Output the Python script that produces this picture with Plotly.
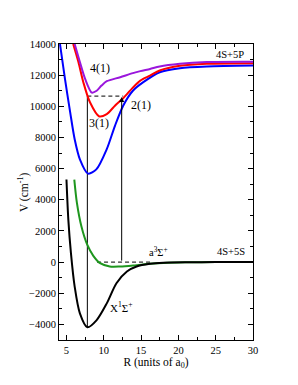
import plotly.graph_objects as go

# Ground singlet X1Sigma+
R_X = [5.0, 5.25, 5.6, 6.1, 6.8, 7.8, 9.05, 10.4, 11.7, 13.1, 14.4, 16.2, 18.0, 21.0, 25.0, 30.0]
V_X = [5300, 2730, 580, -1570, -3290, -4180, -3720, -2650, -1355, -600, -280, -110, -40, -10, 0, 0]

# Triplet a3Sigma+
R_a = [6.05, 6.4, 7.0, 7.8, 8.6, 9.5, 10.8, 12.2, 14.0, 16.2, 18.0, 21.0, 25.0, 30.0]
V_a = [5300, 3800, 2300, 1100, 400, -70, -280, -280, -215, -110, -50, -15, 0, 0]

# 2(1) state (blue)
R_2 = [4.13, 4.8, 5.5, 6.1, 6.8, 7.9, 9.0, 10.4, 11.5, 12.6, 13.9, 15.3, 17.5, 20.2, 23.8, 30.0]
V_2 = [14000, 11760, 9610, 7890, 6600, 5680, 5950, 7250, 8750, 10040, 11000, 11550, 12190, 12450, 12560, 12620]

# 3(1) state (red)
R_3 = [5.9, 6.6, 7.26, 8.15, 9.4, 10.4, 11.5, 12.6, 13.9, 14.9, 16.2, 17.5, 20.2, 23.8, 30.0]
V_3 = [14000, 12840, 11550, 10260, 9350, 9500, 10040, 10520, 11200, 11650, 11970, 12300, 12600, 12730, 12770]

# 4(1) state (purple)
R_4 = [6.1, 6.8, 7.5, 8.4, 9.05, 9.7, 10.4, 12.2, 13.9, 14.9, 16.2, 17.5, 20.2, 23.8, 30.0]
V_4 = [14000, 12840, 11760, 10880, 11000, 11330, 11610, 11870, 12130, 12260, 12400, 12560, 12730, 12840, 12860]

# transition / guide lines
pump_R = [7.8, 7.8]
pump_V = [-4180, 10650]
dash_top_R = [7.8, 12.6]
dash_top_V = [10650, 10650]
dash_zero_R = [9.1, 16.5]
dash_zero_V = [0, 0]
arrow_R = 12.4
arrow_V = [0, 10600]

# labels
label_text = ["4(1)", "3(1)", "2(1)", "4S+5P", "4S+5S", "a<sup>3</sup>Σ<sup>+</sup>", "X<sup>1</sup>Σ<sup>+</sup>"]
label_R = [9.5, 9.4, 15.0, 26.9, 27.0, 17.3, 12.4]
label_V = [12450, 8950, 10100, 13300, 700, 650, -2850]
label_size = [12, 12, 12, 10.5, 10.5, 10.5, 11]

y_title = "V (cm<sup>-1</sup>)"
x_title = "R (units of a<sub>0</sub>)"

FONT = "Liberation Serif, Times New Roman, serif"

fig = go.Figure()

def curve(R, V, color):
    fig.add_trace(go.Scatter(x=R, y=V, mode="lines",
                             line=dict(color=color, width=2, shape="spline", smoothing=0.8),
                             hoverinfo="skip", showlegend=False, cliponaxis=True))

fig.add_trace(go.Scatter(x=pump_R, y=pump_V, mode="lines",
                         line=dict(color="black", width=1), showlegend=False))
fig.add_trace(go.Scatter(x=dash_top_R, y=dash_top_V, mode="lines",
                         line=dict(color="#333333", width=1.3, dash="4px,3px"), showlegend=False))
fig.add_trace(go.Scatter(x=dash_zero_R, y=dash_zero_V, mode="lines",
                         line=dict(color="#333333", width=1.3, dash="4px,3px"), showlegend=False))

curve(R_a, V_a, "#1e961e")
curve(R_X, V_X, "black")
curve(R_2, V_2, "#0000ff")
curve(R_3, V_3, "#ff0000")
curve(R_4, V_4, "#9a16dc")

fig.add_annotation(x=arrow_R, y=arrow_V[1], ax=arrow_R, ay=arrow_V[0],
                   xref="x", yref="y", axref="x", ayref="y",
                   showarrow=True, arrowhead=2, arrowsize=1, arrowwidth=1,
                   arrowcolor="black", text="")

for t, r, v, s in zip(label_text, label_R, label_V, label_size):
    fig.add_annotation(x=r, y=v, text=t, showarrow=False,
                       font=dict(family=FONT, size=s, color="black"))

# y-axis title placed as rotated annotation
fig.add_annotation(x=-0.185, y=0.5, xref="paper", yref="paper", text=y_title,
                   textangle=-90, showarrow=False, xanchor="center", yanchor="middle",
                   font=dict(family=FONT, size=11.5, color="black"))

axis_common = dict(
    showgrid=False, zeroline=False, showline=True, linecolor="black", linewidth=1,
    mirror="ticks", ticks="inside", ticklen=5, tickcolor="black", tickwidth=1,
    tickfont=dict(family=FONT, size=10.5, color="black"), tickformat="d",
    automargin=False,
)

fig.update_xaxes(range=[4, 30], tick0=0, dtick=5,
                 minor=dict(ticks="inside", ticklen=3, dtick=2.5, tick0=0, tickcolor="black"),
                 title=dict(text=x_title, font=dict(family=FONT, size=11.5, color="black"), standoff=2),
                 **axis_common)
fig.update_yaxes(range=[-5000, 14000], tick0=0, dtick=2000,
                 minor=dict(ticks="inside", ticklen=3, dtick=1000, tick0=0, tickcolor="black"),
                 **axis_common)

# page has an 8px body margin, so the figure is sized to fit inside the window
fig.update_layout(width=290, height=377, margin=dict(l=51, r=45, t=36, b=45),
                  plot_bgcolor="white", paper_bgcolor="white", showlegend=False)

fig.write_html("out.html")
